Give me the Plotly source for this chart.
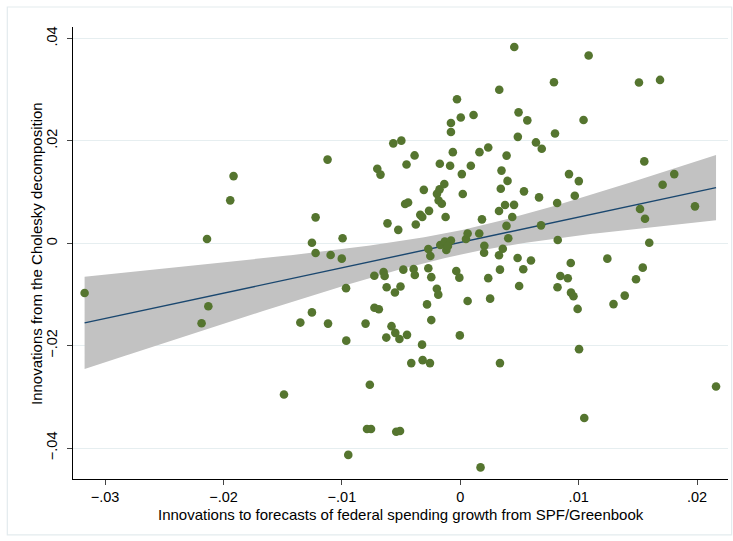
import numpy as np
import plotly.graph_objects as go

# Innovations to forecasts of federal spending growth (SPF/Greenbook)
spend_innov = [
    -0.03173, -0.02139, -0.02185, -0.02128, -0.01915, -0.01943, -0.01489, -0.01351,
    -0.01253, -0.01222, -0.01222, -0.01253, -0.01121, -0.01117, -0.01095, -0.00994,
    -0.01001, -0.00965, -0.00963, -0.00946, -0.00800, -0.00788, -0.00754, -0.00764,
    -0.00726, -0.00725, -0.00688, -0.00701, -0.00674, -0.00648, -0.00639, -0.00622,
    -0.00615, -0.00581, -0.00566, -0.00498, -0.00552, -0.00549, -0.00514, -0.00625,
    -0.00541, -0.00509, -0.00524, -0.00505, -0.00481, -0.00466, -0.00441, -0.00454,
    -0.00450, -0.00414, -0.00394, -0.00384, -0.00386, -0.00376, -0.00338, -0.00321,
    -0.00323, -0.00318, -0.00256, -0.00308, -0.00281, -0.00270, -0.00270, -0.00253,
    -0.00264, -0.00245, -0.00245, -0.00198, -0.00186, -0.00197, -0.00175, -0.00135,
    -0.00183, -0.00156, -0.00173, -0.00086, -0.00124, -0.00169, -0.00131, -0.00079,
    -0.00118, -0.00104, -0.00079, -0.00079, -0.00063, -0.00028, 0.00004, -0.00034,
    -0.00008, -0.00004, 0.00013, 0.00021, 0.00048, 0.00062, 0.00160, 0.00062,
    0.00089, 0.00112, 0.00162, 0.00171, 0.00183, 0.00203, 0.00201, 0.00236,
    0.00236, 0.00252, 0.00329, 0.00327, 0.00378, 0.00348, 0.00342, 0.00359,
    0.00327, 0.00335, 0.00335, 0.00391, 0.00399, 0.00390, 0.00405, 0.00454,
    0.00439, 0.00456, 0.00486, 0.00492, 0.00484, 0.00497, 0.00532, 0.00538,
    0.00566, 0.00597, 0.00639, 0.00688, 0.00665, 0.00682, 0.00791, 0.00800,
    0.00818, 0.00823, 0.00821, 0.00845, 0.00908, 0.00918, 0.00933, 0.00935,
    0.00956, 0.00967, 0.00991, 0.01001, 0.01003, 0.01041, 0.01047, 0.01084,
    0.01242, 0.01294, 0.01389, 0.01484, 0.01509, 0.01518, 0.01541, 0.01554,
    0.01560, 0.01596, 0.01687, 0.01709, 0.01807, 0.01982, 0.02160,
]

# Innovations from the Cholesky decomposition
chol_innov = [
    -0.00970, 0.00084, -0.01561, -0.01229, 0.01313, 0.00839, -0.02954, -0.01549,
    0.00012, 0.00507, -0.00189, -0.01350, 0.01635, -0.01569, -0.00228, 0.00098,
    -0.00300, -0.00876, -0.01902, -0.04134, -0.01569, -0.03629, -0.03629, -0.02765,
    -0.00634, -0.01258, -0.01288, 0.01455, 0.01342, -0.00560, -0.00638, -0.00858,
    0.00390, -0.01619, 0.01953, 0.02006, -0.00960, -0.01750, -0.01871, -0.01842,
    -0.03682, -0.03666, 0.00263, -0.00843, -0.00515, 0.00767, 0.00796, 0.01541,
    -0.01789, -0.02341, -0.00501, -0.00618, 0.01717, 0.00367, 0.00556, 0.00513,
    -0.01980, -0.02283, -0.02341, 0.01044, -0.01194, -0.00488, -0.00111, -0.00248,
    0.00634, -0.00661, -0.01500, -0.00888, -0.01003, 0.00966, 0.01054, 0.01157,
    0.00835, 0.00773, 0.01553, 0.01514, 0.00513, -0.00033, 0.00035, 0.00055,
    -0.00131, -0.00053, 0.02351, 0.02175, 0.01781, 0.02815, 0.02458, -0.00540,
    -0.00671, -0.01799, 0.01352, 0.00962, 0.00084, 0.00191, 0.00191, -0.01126,
    0.01514, 0.02507, 0.01781, -0.04378, 0.00468, -0.00047, -0.00185, 0.01873,
    -0.00681, -0.01081, 0.03001, 0.00630, 0.00747, 0.01420, 0.01065, -0.00105,
    -0.00232, -0.00515, -0.02341, 0.01713, 0.01219, 0.00341, 0.00100, 0.00751,
    0.00513, 0.03836, 0.02080, 0.02558, -0.00287, -0.00833, -0.00507, 0.01015,
    0.02402, -0.00336, 0.01971, 0.01846, 0.00897, 0.00351, 0.03147, 0.02146,
    0.00786, 0.00064, -0.00858, -0.00638, -0.00683, 0.01352, -0.00384, -0.00964,
    -0.01034, 0.00929, -0.01282, 0.01215, -0.02068, 0.02409, -0.03414, 0.03668,
    -0.00300, -0.01188, -0.01022, -0.00702, 0.03141, 0.00669, -0.00476, 0.01600,
    0.00480, 0.00012, 0.03192, 0.01143, 0.01352, 0.00722, -0.02798,
]

x_ticks = [-0.03, -0.02, -0.01, 0.0, 0.01, 0.02]
x_tick_labels = ["\u2212.03", "\u2212.02", "\u2212.01", "0", ".01", ".02"]
y_ticks = [-0.04, -0.02, 0.0, 0.02, 0.04]
y_tick_labels = ["\u2212.04", "\u2212.02", "0", ".02", ".04"]

x_title = "Innovations to forecasts of federal spending growth from SPF/Greenbook"
y_title = "Innovations from the Cholesky decomposition"

# Linear fit with 95% confidence interval of the mean prediction
X = np.asarray(spend_innov)
Y = np.asarray(chol_innov)
n = X.size
xm, ym = X.mean(), Y.mean()
sxx = np.sum((X - xm) ** 2)
slope = np.sum((X - xm) * (Y - ym)) / sxx
intercept = ym - slope * xm
resid = Y - (intercept + slope * X)
s2 = np.sum(resid ** 2) / (n - 2)
t_crit = 1.9744  # two-sided 95%, df = n - 2

grid = np.linspace(X.min(), X.max(), 200)
fit = intercept + slope * grid
se = np.sqrt(s2 * (1.0 / n + (grid - xm) ** 2 / sxx))
upper = fit + t_crit * se
lower = fit - t_crit * se

fig = go.Figure()
fig.add_trace(go.Scatter(
    x=np.concatenate([grid, grid[::-1]]),
    y=np.concatenate([upper, lower[::-1]]),
    fill="toself", fillcolor="#c2c2c2", line=dict(width=0),
    mode="lines", hoverinfo="skip", showlegend=False,
))
fig.add_trace(go.Scatter(
    x=grid, y=fit, mode="lines",
    line=dict(color="#1a476f", width=1.4), showlegend=False,
))
fig.add_trace(go.Scatter(
    x=X, y=Y, mode="markers",
    marker=dict(color="#55752f", size=8.6, line=dict(width=0)),
    showlegend=False,
))

tick_font = dict(family="Liberation Sans, Arial, sans-serif", size=14.5, color="#000000")
title_font = dict(family="Liberation Sans, Arial, sans-serif", size=15, color="#000000")

fig.update_xaxes(
    range=[-0.03271, 0.02261], tickvals=x_ticks, ticktext=x_tick_labels,
    showgrid=False, zeroline=False, showline=True, linecolor="#000000", linewidth=1,
    ticks="outside", ticklen=5, tickwidth=1, tickcolor="#444444",
    tickfont=tick_font,
)
fig.update_yaxes(
    range=[-0.04605, 0.04226], tickvals=y_ticks, ticktext=y_tick_labels,
    showgrid=True, gridcolor="#e6eef0", gridwidth=1.2,
    zeroline=False, showline=True, linecolor="#000000", linewidth=1,
    ticks="outside", ticklen=5, tickwidth=1, tickcolor="#444444",
    tickangle=-90, tickfont=tick_font, ticklabelstandoff=4,
)

fig.add_annotation(
    text=x_title, xref="paper", yref="paper", x=0.5, y=-0.079,
    showarrow=False, font=title_font, xanchor="center", yanchor="middle",
)
fig.add_annotation(
    text=y_title, xref="paper", yref="paper", x=-0.0565, y=0.5,
    showarrow=False, font=title_font, textangle=-90,
    xanchor="center", yanchor="middle",
)

# faint frame around the whole graph region
fig.add_shape(
    type="rect", xref="paper", yref="paper",
    x0=-0.1003, x1=1.0055, y0=-0.1235, y1=1.0442,
    line=dict(color="#e3ebee", width=1.2), fillcolor="rgba(0,0,0,0)", layer="below",
)

fig.update_layout(
    width=733, height=541, autosize=False,
    margin=dict(l=73, r=5, t=27, b=62),
    paper_bgcolor="#ffffff", plot_bgcolor="#ffffff",
)

fig.write_html("out.html")
